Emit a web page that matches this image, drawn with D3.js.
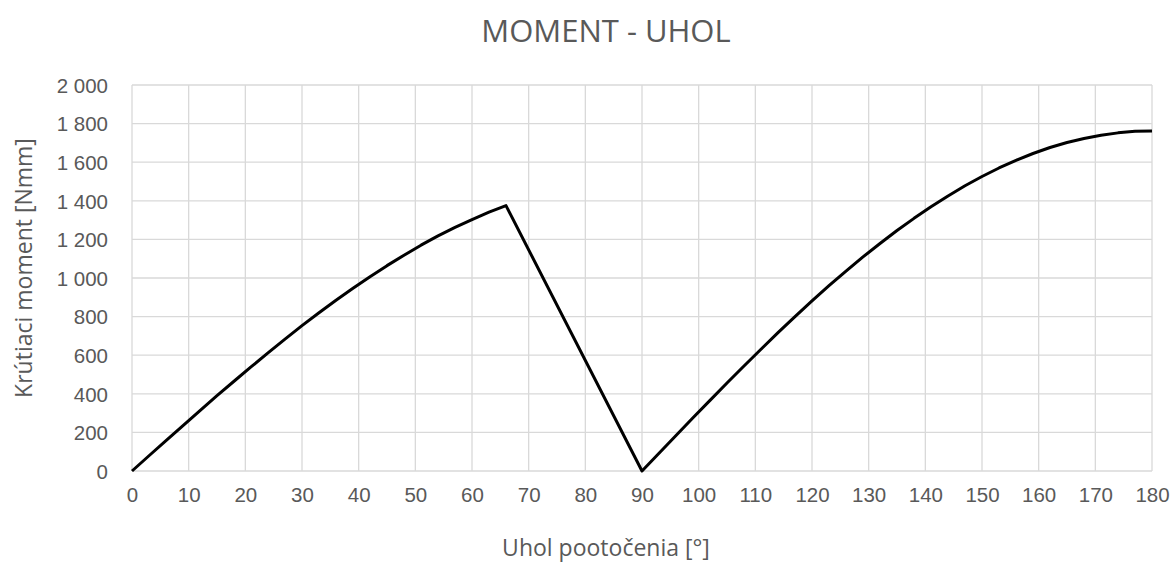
<!DOCTYPE html>
<html>
<head>
<meta charset="utf-8">
<script src="https://cdn.jsdelivr.net/npm/d3@7"></script>
<style>
  html, body { margin: 0; padding: 0; background: #fff; }
  svg { display: block; font-family: "Open Sans", "Noto Sans", sans-serif; }
</style>
</head>
<body>
<svg id="chart" width="1175" height="565"></svg>
<script>
// Torque vs. rotation angle
const angles = [
  0, 3, 6, 9, 12, 15, 18, 21, 24, 27, 30, 33, 36, 39, 42, 45, 48, 51, 54, 57, 60, 63, 66,
  90, 93, 96, 99, 102, 105, 108, 111, 114, 117, 120, 123, 126, 129, 132, 135, 138, 141,
  144, 147, 150, 153, 156, 159, 162, 165, 168, 171, 174, 177, 180
];
const moments = [
  0, 79, 157, 235, 313, 390, 465, 539, 612, 683, 753, 820, 885, 947, 1007, 1064, 1118, 1170, 1218, 1262, 1303, 1341, 1375,
  0, 92, 184, 276, 366, 456, 544, 631, 717, 800, 881, 960, 1036, 1109, 1179, 1246, 1309, 1369,
  1425, 1478, 1526, 1570, 1610, 1645, 1676, 1702, 1723, 1740, 1752, 1760, 1762
];
const xTicks = d3.range(0, 181, 10);
const yTicks = d3.range(0, 2001, 200);

const chartTitle = "MOMENT - UHOL";
const xTitle = "Uhol pootočenia [°]";
const yTitle = "Krútiaci moment [Nmm]";

const svg = d3.select("#chart");
const margin = { left: 132, right: 23, top: 85, bottom: 94 };
const W = 1175, H = 565;
const textColor = "#595959";

const x = d3.scaleLinear().domain([0, 180]).range([margin.left, W - margin.right]);
const y = d3.scaleLinear().domain([0, 2000]).range([H - margin.bottom, margin.top]);

// grid
const grid = svg.append("g").attr("stroke", "#d9d9d9").attr("stroke-width", 1.3);
grid.selectAll("line.h").data(yTicks).join("line")
  .attr("x1", x(0)).attr("x2", x(180))
  .attr("y1", d => y(d)).attr("y2", d => y(d));
grid.selectAll("line.v").data(xTicks).join("line")
  .attr("y1", y(0)).attr("y2", y(2000))
  .attr("x1", d => x(d)).attr("x2", d => x(d));

// axes (labels only)
const fmt = d => d3.format(",")(d).replace(/,/g, "\u00a0");
const yAxis = d3.axisLeft(y).tickValues(yTicks).tickFormat(fmt).tickSize(0).tickPadding(24);
const gy = svg.append("g").attr("transform", `translate(${x(0)},0)`).call(yAxis);
const xAxis = d3.axisBottom(x).tickValues(xTicks).tickSize(0).tickPadding(16);
const gx = svg.append("g").attr("transform", `translate(0,${y(0)})`).call(xAxis);
[gy, gx].forEach(g => {
  g.select(".domain").remove();
  g.selectAll("text").attr("fill", textColor).attr("font-size", 20.5).attr("font-family", null);
});
gy.selectAll("text").attr("dy", "0.36em");

// series
const pts = angles.map((a, i) => [a, moments[i]]);
svg.append("path")
  .datum(pts)
  .attr("fill", "none")
  .attr("stroke", "#000")
  .attr("stroke-width", 3)
  .attr("stroke-linejoin", "round")
  .attr("d", d3.line().x(d => x(d[0])).y(d => y(d[1])));

// titles
svg.append("text").attr("x", 606).attr("y", 42).attr("text-anchor", "middle")
  .attr("fill", textColor).attr("font-size", 31).text(chartTitle);
svg.append("text").attr("x", 606).attr("y", 556).attr("text-anchor", "middle")
  .attr("fill", textColor).attr("font-size", 23).text(xTitle);
svg.append("text").attr("transform", `translate(32,268) rotate(-90)`)
  .attr("text-anchor", "middle").attr("fill", textColor).attr("font-size", 23).text(yTitle);
</script>
</body>
</html>
